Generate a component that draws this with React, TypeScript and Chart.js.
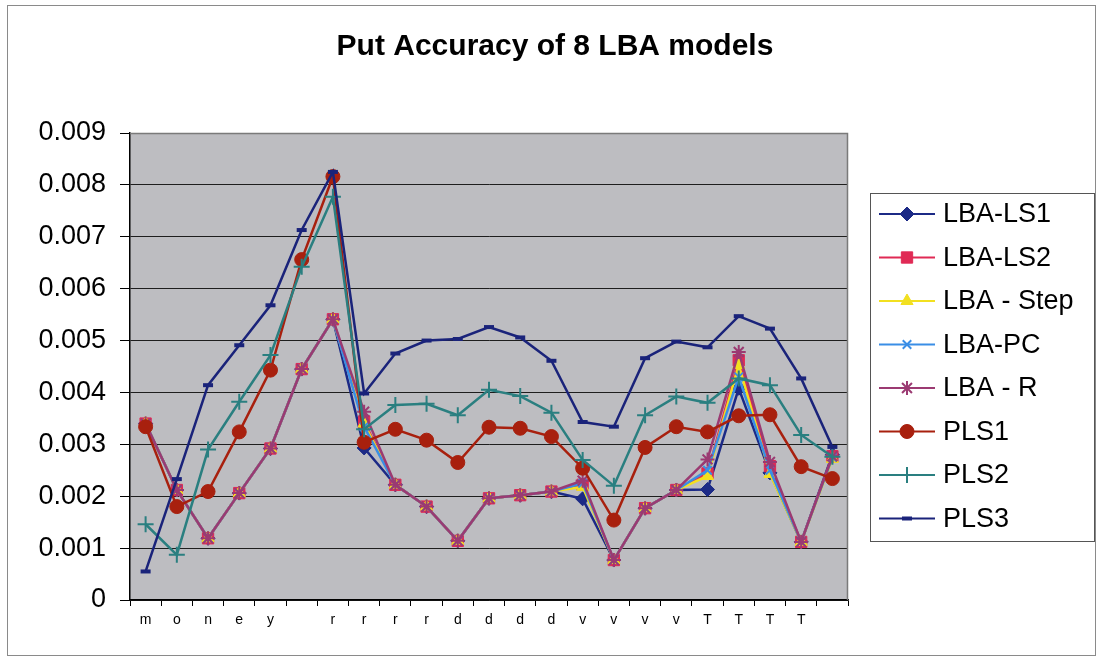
import React, { useEffect, useRef } from 'react';
import { Chart, registerables } from 'chart.js';
import { drawPoint } from 'chart.js/helpers';

Chart.register(...registerables);

const categories = ['m', 'o', 'n', 'e', 'y', '', 'r', 'r', 'r', 'r', 'd', 'd', 'd', 'd', 'v', 'v', 'v', 'v', 'T', 'T', 'T', 'T', ''];
const yTickLabels = ['0', '0.001', '0.002', '0.003', '0.004', '0.005', '0.006', '0.007', '0.008', '0.009'];

const lbaLS1 = [0.0034, 0.00212, 0.00119, 0.00206, 0.00292, 0.00445, 0.00541, 0.00293, 0.00222, 0.0018, 0.00114, 0.00196, 0.00202, 0.00209, 0.00195, 0.00077, 0.00177, 0.00212, 0.00213, 0.00408, 0.00245, 0.00112, 0.0028];
const lbaLS2 = [0.0034, 0.00212, 0.00119, 0.00206, 0.00292, 0.00445, 0.00541, 0.00344, 0.00222, 0.0018, 0.00114, 0.00196, 0.00202, 0.00209, 0.00222, 0.00077, 0.00177, 0.00212, 0.00244, 0.00462, 0.00258, 0.00112, 0.00277];
const lbaStep = [0.0034, 0.00212, 0.00119, 0.00206, 0.00292, 0.00445, 0.00541, 0.0034, 0.00222, 0.0018, 0.00114, 0.00196, 0.00202, 0.00209, 0.00218, 0.00077, 0.00177, 0.00212, 0.00239, 0.00453, 0.00243, 0.00112, 0.00272];
const lbaPC = [0.0034, 0.00212, 0.00119, 0.00206, 0.00292, 0.00445, 0.00541, 0.00334, 0.00222, 0.0018, 0.00114, 0.00196, 0.00202, 0.00209, 0.00225, 0.00077, 0.00177, 0.00212, 0.0025, 0.0043, 0.0025, 0.00112, 0.00275];
const lbaR = [0.0034, 0.00212, 0.00119, 0.00206, 0.00292, 0.00445, 0.00541, 0.00363, 0.00222, 0.0018, 0.00114, 0.00196, 0.00202, 0.00209, 0.0023, 0.00077, 0.00177, 0.00212, 0.00271, 0.00478, 0.00266, 0.00112, 0.00277];
const pls1 = [0.00334, 0.0018, 0.00209, 0.00324, 0.00443, 0.00656, 0.00816, 0.00304, 0.00329, 0.00308, 0.00265, 0.00333, 0.00331, 0.00315, 0.00254, 0.00154, 0.00294, 0.00334, 0.00324, 0.00355, 0.00357, 0.00257, 0.00234];
const pls2 = [0.00146, 0.00087, 0.0029, 0.00382, 0.00472, 0.00642, 0.00777, 0.00329, 0.00376, 0.00378, 0.00356, 0.00405, 0.00393, 0.00361, 0.0027, 0.0022, 0.00356, 0.00392, 0.0038, 0.00427, 0.00414, 0.00318, 0.00276];
const pls3 = [0.00055, 0.00233, 0.00414, 0.00491, 0.00568, 0.00713, 0.00825, 0.00398, 0.00475, 0.005, 0.00503, 0.00526, 0.00506, 0.00461, 0.00343, 0.00334, 0.00466, 0.00498, 0.00487, 0.00547, 0.00523, 0.00427, 0.00295];

const seriesNames = ['LBA-LS1', 'LBA-LS2', 'LBA - Step', 'LBA-PC', 'LBA - R', 'PLS1', 'PLS2', 'PLS3'];
const seriesData = [lbaLS1, lbaLS2, lbaStep, lbaPC, lbaR, pls1, pls2, pls3];
const seriesColors = ['#1c2a86', '#e02a55', '#f2e020', '#3a8ee6', '#9b3a72', '#a8200e', '#2a7f80', '#1a237a'];
const seriesStyles = ['rectRot', 'rect', 'triangle', 'crossRot', 'star', 'circle', 'cross', 'line'];
const seriesRadius = [7, 8, 7, 6, 7, 7, 8, 5];
const seriesPointBorder = [1, 1, 1, 2, 2, 1, 2, 4];

const TITLE = 'Put Accuracy of 8 LBA models';
const FONT = '"Liberation Sans", Arial, sans-serif';

const decorPlugin = {
  id: 'decor',
  beforeDraw(chart: any) {
    const { ctx, chartArea: a, width, height } = chart;
    ctx.save();
    ctx.fillStyle = '#ffffff';
    ctx.fillRect(0, 0, width, height);
    ctx.strokeStyle = '#8a8a8a';
    ctx.lineWidth = 1;
    ctx.strokeRect(7.5, 5.5, 1088, 650);
    ctx.fillStyle = '#bdbdc1';
    ctx.fillRect(a.left, a.top, a.right - a.left, a.bottom - a.top);
    ctx.restore();
  },
  beforeDatasetsDraw(chart: any) {
    const { ctx, chartArea: a } = chart;
    ctx.save();
    ctx.strokeStyle = '#7a7a7a';
    ctx.lineWidth = 1.5;
    ctx.beginPath();
    ctx.moveTo(a.left, a.top + 0.5);
    ctx.lineTo(a.right - 0.5, a.top + 0.5);
    ctx.lineTo(a.right - 0.5, a.bottom);
    ctx.stroke();
    ctx.restore();
  },
  afterDraw(chart: any) {
    const { ctx } = chart;
    ctx.save();
    // title
    ctx.fillStyle = '#000';
    ctx.font = `bold 30px ${FONT}`;
    ctx.textAlign = 'center';
    ctx.textBaseline = 'middle';
    ctx.fillText(TITLE, 555, 47);
    // legend box
    ctx.fillStyle = '#ffffff';
    ctx.fillRect(870, 193, 224, 348);
    ctx.strokeStyle = '#555';
    ctx.lineWidth = 1;
    ctx.strokeRect(870.5, 193.5, 224, 348);
    chart.data.datasets.forEach((ds: any, i: number) => {
      const y = 214 + i * 43.5;
      ctx.strokeStyle = ds.borderColor;
      ctx.lineWidth = 2;
      ctx.beginPath();
      ctx.moveTo(879, y);
      ctx.lineTo(935, y);
      ctx.stroke();
      ctx.fillStyle = ds.pointBackgroundColor;
      ctx.strokeStyle = ds.pointBorderColor;
      ctx.lineWidth = ds.pointBorderWidth;
      drawPoint(ctx, { pointStyle: ds.pointStyle, radius: ds.pointRadius, rotation: 0, borderWidth: ds.pointBorderWidth }, 907, y);
      ctx.fillStyle = '#000';
      ctx.font = `27px ${FONT}`;
      ctx.textAlign = 'left';
      ctx.textBaseline = 'middle';
      ctx.fillText(ds.label, 943, y + 1);
    });
    ctx.restore();
  },
};

export default function App() {
  const ref = useRef<HTMLCanvasElement | null>(null);
  useEffect(() => {
    if (!ref.current) return;
    const datasets = seriesNames.map((name, i) => ({
      label: name,
      data: seriesData[i],
      borderColor: seriesColors[i],
      backgroundColor: seriesColors[i],
      pointBackgroundColor: seriesColors[i],
      pointBorderColor: seriesColors[i],
      pointStyle: seriesStyles[i],
      pointRadius: seriesRadius[i],
      pointBorderWidth: seriesPointBorder[i],
      borderWidth: 2.5,
      tension: 0,
      fill: false,
      order: seriesNames.length - i,
    }));
    const chart = new Chart(ref.current, {
      type: 'line',
      data: { labels: categories, datasets },
      plugins: [decorPlugin],
      options: {
        animation: false,
        responsive: false,
        layout: { padding: { left: 0, top: 133, right: 249, bottom: 0 } },
        plugins: {
          legend: { display: false },
          title: { display: false },
          tooltip: { enabled: false },
        },
        scales: {
          x: {
            type: 'category',
            offset: true,
            afterFit: (s: any) => { s.height = 58; },
            grid: {
              display: true,
              offset: true,
              drawOnChartArea: false,
              drawTicks: true,
              tickLength: 6,
              tickColor: '#000',
              color: '#000',
            },
            border: { display: true, color: '#000', width: 1.5 },
            ticks: {
              autoSkip: false,
              maxRotation: 0,
              padding: 6,
              color: '#000',
              font: { family: FONT, size: 14 },
            },
          },
          y: {
            min: 0,
            max: 0.009,
            afterFit: (s: any) => { s.width = 130; },
            grid: {
              color: '#1e1e1e',
              lineWidth: 1,
              drawTicks: true,
              tickLength: 10,
              tickColor: '#000',
            },
            border: { display: true, color: '#000', width: 1.5 },
            ticks: {
              stepSize: 0.001,
              padding: 14,
              color: '#000',
              font: { family: FONT, size: 27 },
              callback: (_v: any, idx: number) => yTickLabels[idx],
            },
          },
        },
      },
    });
    return () => chart.destroy();
  }, []);
  return (
    <div style={{ position: 'fixed', left: 0, top: 0, width: 1097, height: 658, background: '#fff' }}>
      <canvas ref={ref} width={1097} height={658} style={{ width: 1097, height: 658, display: 'block' }} />
    </div>
  );
}
